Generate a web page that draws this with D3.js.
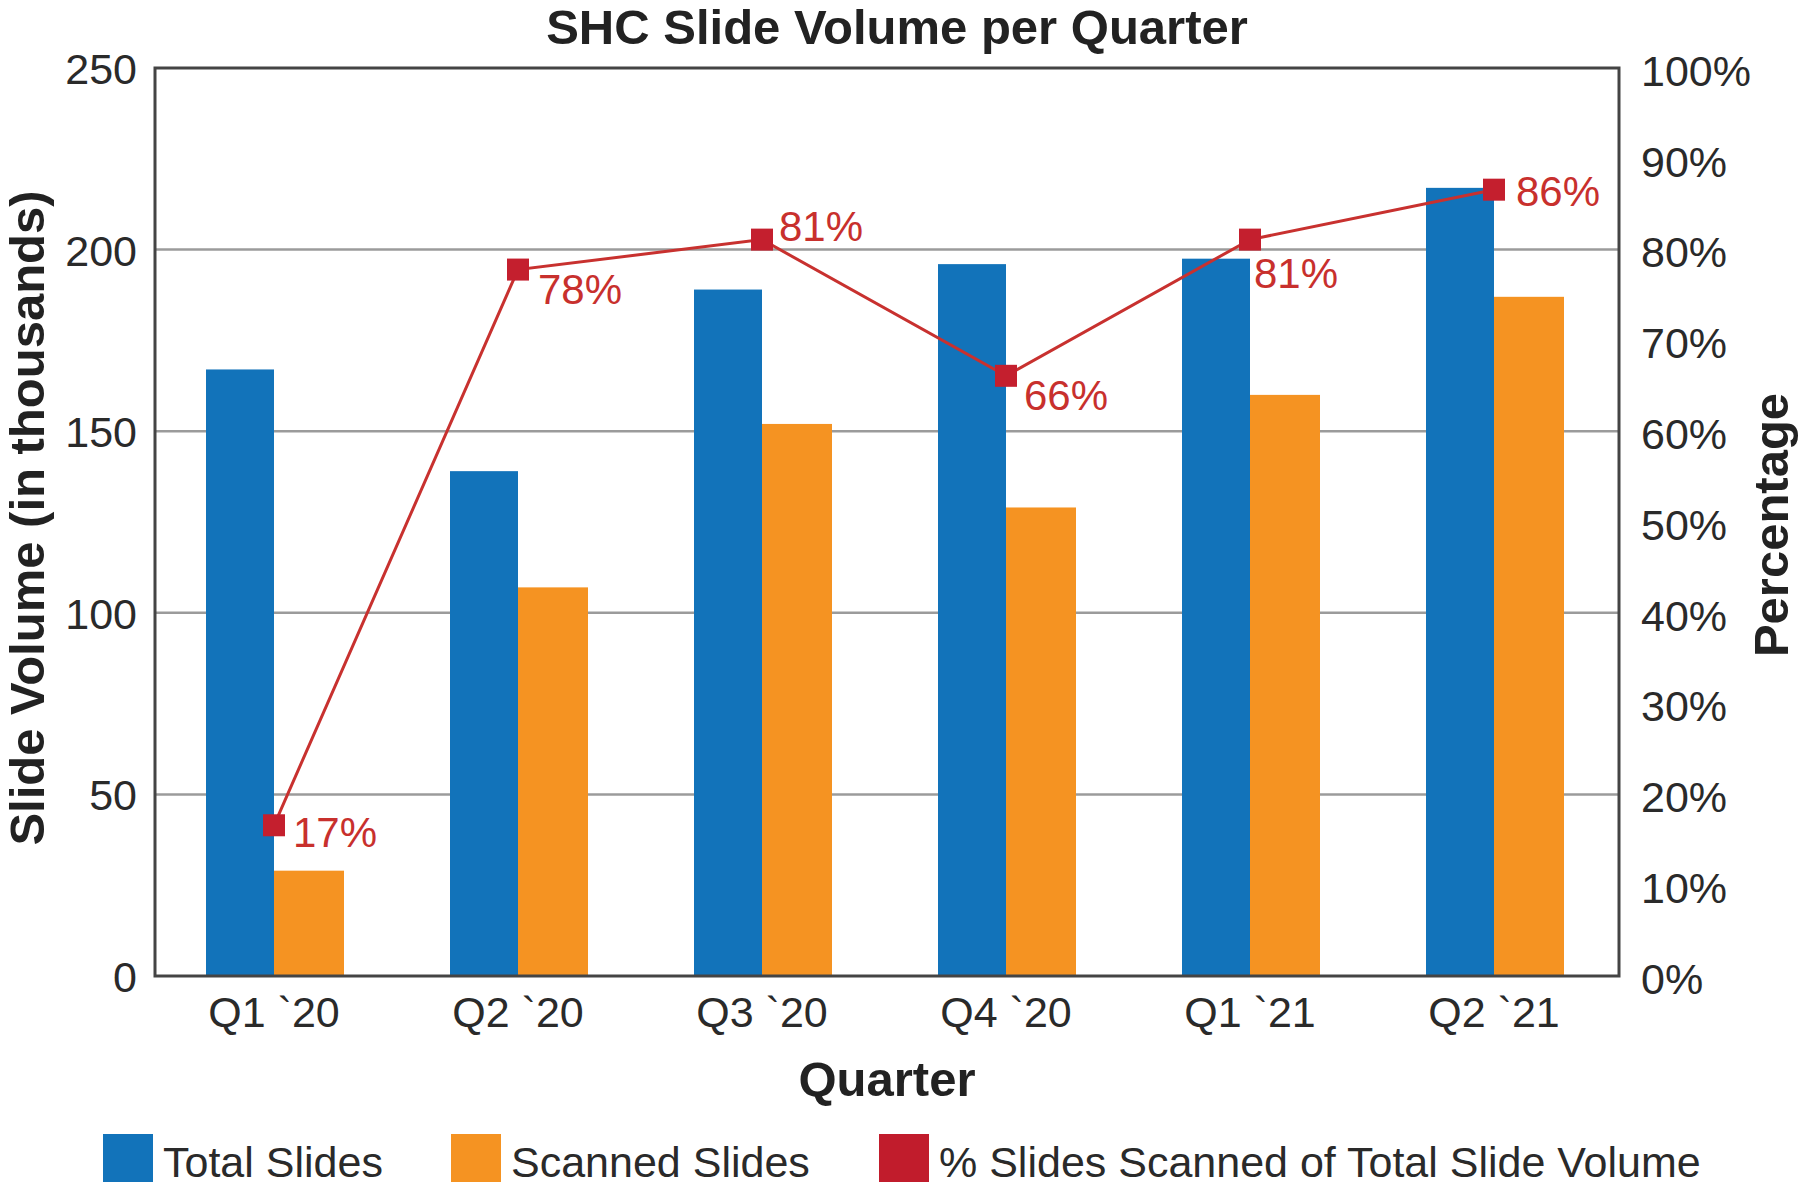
<!DOCTYPE html>
<html>
<head>
<meta charset="utf-8">
<script src="https://cdn.jsdelivr.net/npm/d3@7"></script>
<style>
  html, body { margin: 0; padding: 0; background: #fff; }
  svg { display: block; font-family: "Liberation Sans", Arial, Helvetica, sans-serif; }
</style>
</head>
<body>
<svg id="chart" width="1800" height="1185"></svg>
<script>
// ---- data ----
const categories = ["Q1 `20", "Q2 `20", "Q3 `20", "Q4 `20", "Q1 `21", "Q2 `21"];
const totalSlides = [167, 139, 189, 196, 197.5, 217];
const scannedSlides = [29, 107, 152, 129, 160, 187];
const pctScanned = [16.6, 77.8, 81.1, 66.1, 81.1, 86.6];
const pctLabels = ["17%", "78%", "81%", "66%", "81%", "86%"];
const leftTicks = [0, 50, 100, 150, 200, 250];
const rightTicks = [0, 10, 20, 30, 40, 50, 60, 70, 80, 90, 100];
const gridTicks = [50, 100, 150, 200];
const legendLabels = ["Total Slides", "Scanned Slides", "% Slides Scanned of Total Slide Volume"];

// ---- layout ----
const L = 155, R = 1619, T = 68, B = 976;
const blue = "#1273ba", orange = "#f59322", red = "#c41f2e", labelRed = "#c8302d";
const textCol = "#2a2a2a";
const labelOffsets = [[19, 7], [20, 19], [17, -14], [18, 19], [4, 33], [22, 1]];

const svg = d3.select("#chart");

const x = d3.scaleBand().domain(categories).range([L - 3, R - 3]);
const yL = d3.scaleLinear().domain([0, 250]).range([B, T]);
const yR = d3.scaleLinear().domain([0, 100]).range([B, T]);

// gridlines
svg.append("g").selectAll("line").data(gridTicks).join("line")
  .attr("x1", L).attr("x2", R)
  .attr("y1", d => yL(d)).attr("y2", d => yL(d))
  .attr("stroke", "#9b9b9b").attr("stroke-width", 2.5);

// bars
const cx = c => x(c) + x.bandwidth() / 2;
svg.append("g").selectAll("rect").data(categories).join("rect")
  .attr("x", c => cx(c) - 68).attr("width", 68)
  .attr("y", (c, i) => yL(totalSlides[i]))
  .attr("height", (c, i) => yL(0) - yL(totalSlides[i]))
  .attr("fill", blue);
svg.append("g").selectAll("rect").data(categories).join("rect")
  .attr("x", c => cx(c)).attr("width", 70)
  .attr("y", (c, i) => yL(scannedSlides[i]))
  .attr("height", (c, i) => yL(0) - yL(scannedSlides[i]))
  .attr("fill", orange);

// frame
svg.append("rect").attr("x", L).attr("y", T).attr("width", R - L).attr("height", B - T)
  .attr("fill", "none").attr("stroke", "#444").attr("stroke-width", 3);

// left axis
const axL = svg.append("g").attr("transform", `translate(${L},0)`)
  .call(d3.axisLeft(yL).tickValues(leftTicks).tickSize(0).tickPadding(18).tickFormat(d3.format("d")));
axL.select(".domain").remove();
axL.selectAll("text").attr("font-size", 43).attr("fill", textCol)
  .attr("font-family", "Liberation Sans, Arial, sans-serif").attr("dy", "0.36em");

// right axis
const axR = svg.append("g").attr("transform", `translate(${R},0)`)
  .call(d3.axisRight(yR).tickValues(rightTicks).tickSize(0).tickPadding(22).tickFormat(d => d + "%"));
axR.select(".domain").remove();
axR.selectAll("text").attr("font-size", 43).attr("fill", textCol)
  .attr("font-family", "Liberation Sans, Arial, sans-serif").attr("dy", "0.4em");

// bottom axis
const axB = svg.append("g").attr("transform", `translate(0,${B})`)
  .call(d3.axisBottom(x).tickSize(0).tickPadding(0));
axB.select(".domain").remove();
axB.selectAll("text").attr("font-size", 43).attr("fill", textCol)
  .attr("font-family", "Liberation Sans, Arial, sans-serif").attr("dy", null).attr("y", 51);

// line
const line = d3.line().x((d, i) => cx(categories[i])).y(d => yR(d));
svg.append("path").datum(pctScanned).attr("d", line)
  .attr("fill", "none").attr("stroke", "#c8312f").attr("stroke-width", 3);
svg.append("g").selectAll("rect").data(pctScanned).join("rect")
  .attr("x", (d, i) => cx(categories[i]) - 11).attr("y", d => yR(d) - 11)
  .attr("width", 22).attr("height", 22).attr("fill", red);
svg.append("g").selectAll("text").data(pctScanned).join("text")
  .attr("x", (d, i) => cx(categories[i]) + labelOffsets[i][0])
  .attr("y", (d, i) => yR(d) + labelOffsets[i][1])
  .attr("dy", "0.36em")
  .attr("font-size", 42).attr("fill", labelRed)
  .text((d, i) => pctLabels[i]);

// titles
svg.append("text").attr("x", 897).attr("y", 44).attr("text-anchor", "middle")
  .attr("font-size", 49).attr("font-weight", "bold").attr("fill", "#222")
  .text("SHC Slide Volume per Quarter");
svg.append("text").attr("x", 887).attr("y", 1096).attr("text-anchor", "middle")
  .attr("font-size", 49).attr("font-weight", "bold").attr("fill", "#222")
  .text("Quarter");
svg.append("text").attr("transform", "translate(44,518) rotate(-90)").attr("text-anchor", "middle")
  .attr("font-size", 49).attr("font-weight", "bold").attr("fill", "#222")
  .text("Slide Volume (in thousands)");
svg.append("text").attr("transform", "translate(1788,525) rotate(-90)").attr("text-anchor", "middle")
  .attr("font-size", 49).attr("font-weight", "bold").attr("fill", "#222")
  .text("Percentage");

// legend
const legendX = [103, 451, 879];
const legendColors = [blue, orange, "#c11c2c"];
const lg = svg.append("g").selectAll("g").data(legendLabels).join("g")
  .attr("transform", (d, i) => `translate(${legendX[i]},1134)`);
lg.append("rect").attr("width", 50).attr("height", 48).attr("fill", (d, i) => legendColors[i]);
lg.append("text").attr("x", 60).attr("y", 43).attr("font-size", 43).attr("fill", textCol)
  .text(d => d);
</script>
</body>
</html>
